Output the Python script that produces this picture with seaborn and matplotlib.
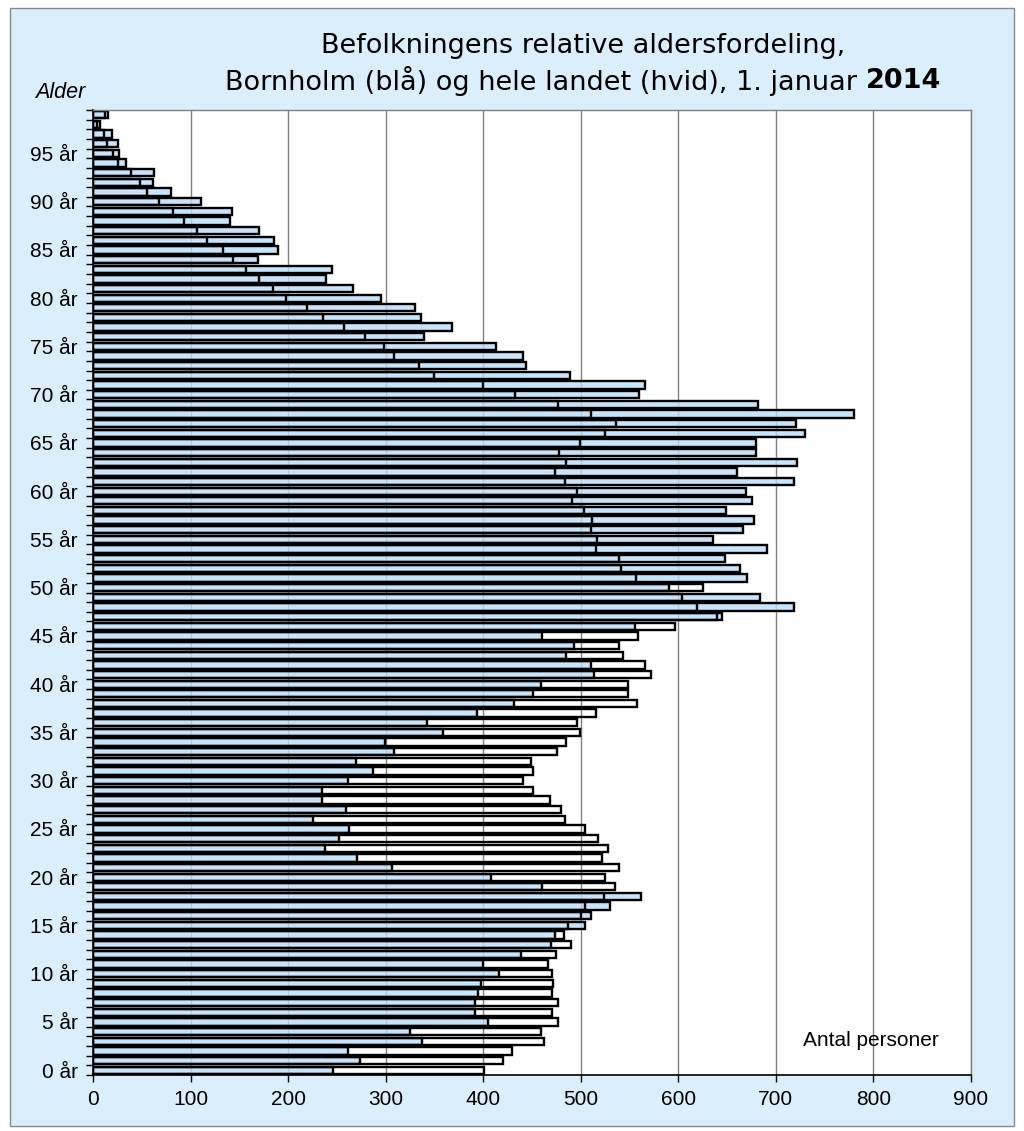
import numpy as np
import pandas as pd
import matplotlib
matplotlib.use("Agg")
import matplotlib.pyplot as plt
import seaborn as sns
from matplotlib.patches import Rectangle
from matplotlib.ticker import FixedLocator

# ---------------- data ----------------
ages = list(range(100))
bornholm = [246, 274, 261, 337, 325, 405, 392, 392, 395, 398,
            416, 400, 439, 469, 474, 504, 510, 530, 562, 460,
            408, 307, 271, 238, 252, 262, 226, 259, 235, 235,
            261, 287, 270, 309, 299, 359, 342, 394, 432, 451,
            459, 514, 510, 485, 493, 460, 556, 645, 719, 684,
            590, 670, 663, 648, 691, 636, 666, 678, 649, 675,
            669, 719, 660, 722, 680, 680, 730, 721, 780, 682,
            560, 566, 489, 444, 441, 413, 339, 368, 336, 330,
            295, 267, 239, 245, 169, 190, 186, 170, 140, 142,
            111, 80, 61, 63, 34, 27, 26, 19, 7, 15]
landet = [401, 420, 430, 462, 459, 477, 470, 477, 470, 472,
          471, 466, 475, 490, 483, 487, 500, 504, 524, 535,
          525, 539, 522, 528, 518, 504, 484, 480, 468, 451,
          441, 451, 449, 476, 485, 499, 496, 516, 558, 548,
          548, 572, 566, 543, 539, 559, 597, 640, 619, 604,
          625, 557, 541, 539, 516, 517, 510, 511, 503, 491,
          496, 484, 474, 485, 478, 499, 525, 536, 510, 477,
          433, 400, 350, 334, 309, 298, 279, 257, 236, 219,
          198, 184, 170, 157, 143, 133, 117, 107, 93, 82,
          68, 55, 48, 39, 26, 20, 14, 11, 4, 12]
x_ticks = [0, 100, 200, 300, 400, 500, 600, 700, 800, 900]
label_ages = list(range(0, 100, 5))
age_labels = [f"{a} år" for a in label_ages]

title_line1 = "Befolkningens relative aldersfordeling,"
title_line2 = "Bornholm (blå) og hele landet (hvid), 1. januar"
title_year = "2014"

# ---------------- style ----------------
sns.set_theme(style="white")
plt.rcParams["font.family"] = ["Liberation Sans", "DejaVu Sans"]

W, H = 1024, 1131
fig = plt.figure(figsize=(W / 100, H / 100), dpi=100, facecolor="white")
bg = Rectangle((10 / W, 1 - 1126 / H), 1004 / W, 1118 / H,
               transform=fig.transFigure, facecolor="#DAEEFC",
               edgecolor="#8a8a8a", lw=1, zorder=-10)
fig.patches.append(bg)

ax = fig.add_axes([93 / W, 1 - 1075 / H, 878 / W, 965 / H])
ax.set_zorder(1)
ax.set_facecolor("white")

df = pd.DataFrame({"Alder": ages, "Bornholm": bornholm, "Hele landet": landet})

sns.barplot(data=df, x="Bornholm", y="Alder", orient="h", native_scale=True,
            width=0.76, color="#B9DEF9", saturation=1, edgecolor="black",
            linewidth=1.7, errorbar=None, ax=ax, zorder=2)
for p in ax.containers[0]:
    p.set_facecolor((185 / 255, 222 / 255, 249 / 255, 0.8))

sns.barplot(data=df, x="Hele landet", y="Alder", orient="h", native_scale=True,
            width=0.76, color="white", saturation=1, edgecolor="black",
            linewidth=1.7, errorbar=None, ax=ax, zorder=3)
for p in ax.containers[1]:
    p.set_facecolor("none")

ax.set_xlim(0, 900)
ax.set_ylim(-0.5, 99.5)
ax.set_xlabel("")
ax.set_ylabel("")

ax.set_xticks(x_ticks)
ax.set_xticklabels([str(v) for v in x_ticks])
ax.set_yticks(label_ages)
ax.set_yticklabels(age_labels)
ax.yaxis.set_minor_locator(FixedLocator(np.arange(-0.5, 100, 1)))

ax.tick_params(axis="y", which="major", left=True, length=0, pad=11,
               labelsize=15, labelcolor="black")
ax.tick_params(axis="y", which="minor", left=True, length=5, width=1,
               color="black")
ax.tick_params(axis="x", which="major", bottom=True, length=5, width=1,
               color="black", pad=6, labelsize=15, labelcolor="black")

ax.grid(True, axis="x", color="#808080", lw=1)
ax.grid(False, axis="y")
ax.set_axisbelow(True)

for s in ["left", "bottom"]:
    ax.spines[s].set_color("black")
    ax.spines[s].set_linewidth(1.2)
for s in ["top", "right"]:
    ax.spines[s].set_color("#808080")
    ax.spines[s].set_linewidth(1)
for s in ax.spines.values():
    s.set_zorder(5)

ax.text(728, 3.1, "Antal personer", fontsize=15, va="center", ha="left",
        color="black", zorder=6)

fig.text(35 / W, 1 - 93 / H, "Alder", style="italic", fontsize=15.5,
         va="center", ha="left", color="black")

# ---------------- title ----------------
tfont = dict(family=["DejaVu Sans"], fontsize=19.5, color="black")
cx = 583
fig.text(cx / W, 1 - 46 / H, title_line1, ha="center", va="center", **tfont)

renderer = fig.canvas.get_renderer()
t_norm = fig.text(0, 1 - 81 / H, title_line2, ha="left", va="center", **tfont)
t_bold = fig.text(0, 1 - 81 / H, title_year, ha="left", va="center",
                  fontweight="bold", **tfont)
t_a = fig.text(0, 0, "a a", **tfont)
t_b = fig.text(0, 0, "aa", **tfont)
space_w = t_a.get_window_extent(renderer).width - t_b.get_window_extent(renderer).width
t_a.remove()
t_b.remove()
w1 = t_norm.get_window_extent(renderer).width
w2 = t_bold.get_window_extent(renderer).width
total = w1 + space_w + w2
x0 = cx - total / 2
t_norm.set_x(x0 / W)
t_bold.set_x((x0 + w1 + space_w) / W)

fig.savefig("out.png", dpi=100, facecolor="white")
